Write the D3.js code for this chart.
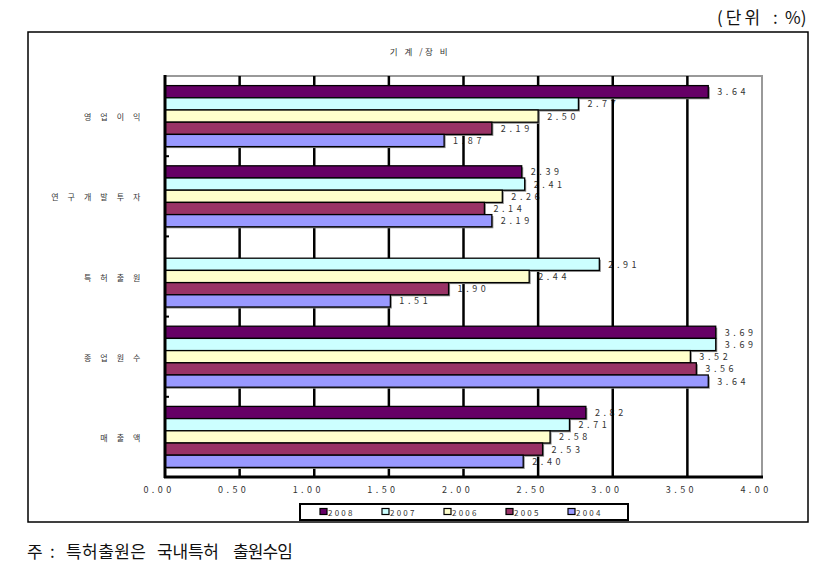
<!DOCTYPE html>
<html><head><meta charset="utf-8">
<script src="https://cdn.jsdelivr.net/npm/d3@7"></script>
<style>
body{margin:0;background:#fff;}
text{font-family:"Noto Sans CJK KR","Noto Sans",sans-serif;}
</style></head>
<body><svg id="c" width="822" height="577"></svg>
<script>
const categories = ["영업이익","연구개발투자","특허출원","종업원수","매출액"];
const categoryLabels = ["영 업 이 익","연 구 개 발 투 자","특 허 출 원","종 업 원 수","매 출 액"];
const years = ["2008","2007","2006","2005","2004"];
const v2008 = [3.64, 2.39, null, 3.69, 2.82];
const v2007 = [2.77, 2.41, 2.91, 3.69, 2.71];
const v2006 = [2.50, 2.26, 2.44, 3.52, 2.58];
const v2005 = [2.19, 2.14, 1.90, 3.56, 2.53];
const v2004 = [1.87, 2.19, 1.51, 3.64, 2.40];
const xTicks = [0,0.5,1,1.5,2,2.5,3,3.5,4];
const colors = ["#660066","#CCFFFF","#FFFFCC","#993366","#9999FF"];
const series = [v2008,v2007,v2006,v2005,v2004];

const svg = d3.select("#c");
const x = d3.scaleLinear().domain([0,4]).range([165,762]);
const y0 = d3.scaleBand().domain(categories).range([76,477]);
const y1 = d3.scaleBand().domain(years).range([9.6,70.6]);

// units
const u = svg.append("text").attr("y",24).attr("font-size",17).attr("fill","#111");
u.append("tspan").attr("x",717).attr("letter-spacing",3).text("(단위");
u.append("tspan").attr("x",773).text(":");
u.append("tspan").attr("x",785).text("%)");
// outer box
svg.append("rect").attr("x",28).attr("y",32).attr("width",780).attr("height",490)
  .attr("fill","none").attr("stroke","#000").attr("stroke-width",1.5);
// title
svg.append("text").attr("x",420).attr("y",55).attr("text-anchor","middle")
  .attr("font-size",8.5).attr("fill","#333").attr("letter-spacing",2.5).text("기 계 /장 비");

const data = [];
categories.forEach((c,i)=>years.forEach((yr,j)=>{
  const v = series[j][i];
  if(v!==null) data.push({c, yr, v, col: colors[j]});
}));

// value labels
svg.append("g").selectAll("text").data(data).join("text")
  .attr("x",d=>x(d.v)+9)
  .attr("y",d=>y0(d.c)+y1(d.yr)+y1.bandwidth()/2+3.5)
  .attr("font-size",9).attr("letter-spacing",3.6).attr("fill","#333")
  .text(d=>d.v.toFixed(2));

// plot border top/right (gray)
svg.append("path").attr("d",`M${x(0)},76H${x(4)}V477`).attr("fill","none")
  .attr("stroke","#999").attr("stroke-width",2);
// gridlines
svg.append("g").selectAll("line").data(xTicks.slice(1,-1)).join("line")
  .attr("x1",d=>x(d)).attr("x2",d=>x(d)).attr("y1",76).attr("y2",477)
  .attr("stroke","#000").attr("stroke-width",2.5);

// bars shadows
svg.append("g").selectAll("rect").data(data).join("rect")
  .attr("x",x(0)+1.5).attr("y",d=>y0(d.c)+y1(d.yr)+1.5)
  .attr("width",d=>x(d.v)-x(0)).attr("height",y1.bandwidth())
  .attr("fill","#888");
// bars
svg.append("g").selectAll("rect").data(data).join("rect")
  .attr("x",x(0)).attr("y",d=>y0(d.c)+y1(d.yr))
  .attr("width",d=>x(d.v)-x(0)).attr("height",y1.bandwidth())
  .attr("fill",d=>d.col).attr("stroke","#000").attr("stroke-width",1.3);

// axes
svg.append("line").attr("x1",x(0)).attr("x2",x(0)).attr("y1",75).attr("y2",478)
  .attr("stroke","#000").attr("stroke-width",3);
svg.append("line").attr("x1",x(0)-1).attr("x2",x(4)+1).attr("y1",477).attr("y2",477)
  .attr("stroke","#000").attr("stroke-width",3);
// category ticks
svg.append("g").selectAll("line").data(categories.slice(1)).join("line")
  .attr("x1",x(0)).attr("x2",x(0)+4).attr("y1",d=>y0(d)).attr("y2",d=>y0(d))
  .attr("stroke","#000").attr("stroke-width",2);

// x tick labels
svg.append("g").selectAll("text").data(xTicks).join("text")
  .attr("x",d=>x(d)-6).attr("y",493).attr("text-anchor","middle")
  .attr("font-size",9).attr("letter-spacing",3.4).attr("fill","#333")
  .text(d=>d.toFixed(2));
// category labels
svg.append("g").selectAll("text").data(categories).join("text")
  .attr("x",144).attr("y",d=>y0(d)+y0.bandwidth()/2+4).attr("text-anchor","end")
  .attr("font-size",8).attr("fill","#333")
  .text((d,i)=>categoryLabels[i]).attr("letter-spacing",3.6);

// legend
svg.append("rect").attr("x",300).attr("y",504).attr("width",328).attr("height",16)
  .attr("fill","#fff").attr("stroke","#000").attr("stroke-width",2);
const lg = svg.append("g").selectAll("g").data(years).join("g")
  .attr("transform",(d,i)=>`translate(${320+i*62},512)`);
lg.append("rect").attr("x",0).attr("y",-3.5).attr("width",7).attr("height",6)
  .attr("fill",(d,i)=>colors[i]).attr("stroke","#000").attr("stroke-width",1.2);
lg.append("text").attr("x",8).attr("y",4).attr("font-size",8).attr("letter-spacing",2.2)
  .attr("fill","#333").text(d=>d);

// footnote
const f = svg.append("text").attr("y",558).attr("font-size",17).attr("fill","#111");
f.append("tspan").attr("x",27).text("주");
f.append("tspan").attr("x",50).text(":");
f.append("tspan").attr("x",66).attr("textLength",80).attr("lengthAdjust","spacing").text("특허출원은");
f.append("tspan").attr("x",157).attr("textLength",62).attr("lengthAdjust","spacing").text("국내특허");
f.append("tspan").attr("x",233).attr("textLength",60).attr("lengthAdjust","spacing").text("출원수임");
</script></body></html>
